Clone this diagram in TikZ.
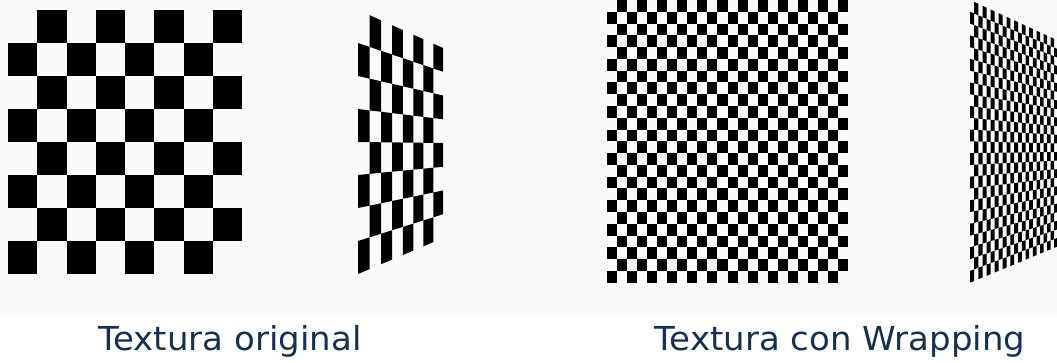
\documentclass[tikz,border=0pt]{standalone}
\usepackage{fontspec}
\newfontfamily\capfont{DejaVu Sans}
\definecolor{captext}{RGB}{22,48,84}
\newcommand{\setwarp}[8]{%
  \def\Wx{#1}\def\WW{#2}\def\WyTa{#3}\def\WyBa{#4}\def\WyTb{#5}\def\WyBb{#6}\def\WN{#7}\def\Wc{#8}}
\newcommand{\wpoint}[3]{%
  \pgfmathsetmacro{\Wqu}{(#1)/\WN}%
  \pgfmathsetmacro{\Wqt}{\Wqu*(1+\Wc)/(1+\Wc*\Wqu)}%
  \pgfmathsetmacro{\Wqtop}{\WyTa+(\WyTb-\WyTa)*\Wqt}%
  \pgfmathsetmacro{\Wqbot}{\WyBa+(\WyBb-\WyBa)*\Wqt}%
  \pgfmathsetmacro{\Wqx}{\Wx+\WW*\Wqt}%
  \pgfmathsetmacro{\Wqy}{\Wqtop+(\Wqbot-\Wqtop)*(#2)/\WN}%
  \coordinate (#3) at (\Wqx,\Wqy);%
}
\newcommand{\warpboard}{%
  \pgfmathtruncatemacro{\Wlast}{\WN-1}%
  \foreach \r in {0,...,\Wlast}{\foreach \c in {0,...,\Wlast}{%
    \pgfmathtruncatemacro{\odd}{mod(\r+\c,2)}%
    \ifnum\odd=1
      \wpoint{\c}{\r}{qa}\wpoint{\c+1}{\r}{qb}%
      \wpoint{\c+1}{\r+1}{qc}\wpoint{\c}{\r+1}{qd}%
      \fill[cell] (qa) -- (qb) -- (qc) -- (qd) -- cycle;
    \fi}}}
\begin{document}
\begin{tikzpicture}[x=1pt,y=-1pt,
  cell/.style={fill=black},
  caption/.style={font=\capfont\fontsize{33}{40}\selectfont, text=captext, anchor=base, inner sep=0pt, xscale=1.03}]
\useasboundingbox (0,0) rectangle (1057,363);
\fill[black!2] (0,0) rectangle (1057,315);
\clip (0,0) rectangle (1057,363);

% original texture 8x8
\foreach \r in {0,...,7}{\foreach \c in {0,...,7}{%
  \pgfmathtruncatemacro{\odd}{mod(\r+\c,2)}%
  \ifnum\odd=1
    \fill[cell] ({8+\c*29.25},{10+\r*33}) rectangle ++(29.25,33);
  \fi}}

% original texture in perspective
\setwarp{358}{85}{10}{274}{48}{238}{8}{0.118}
\warpboard

% wrapped texture 24x24
\foreach \r in {0,...,23}{\foreach \c in {0,...,23}{%
  \pgfmathtruncatemacro{\odd}{mod(\r+\c,2)}%
  \ifnum\odd=1
    \fill[cell] ({606.7+\c*10.067},{\r*11.78}) rectangle ++(10.067,11.78);
  \fi}}

% wrapped texture in perspective
\setwarp{970}{91}{0}{282.7}{42}{245}{24}{0.118}
\warpboard

\node[caption] (capA) at (230,350) {Textura original};
\node[caption] (capB) at (840,350) {Textura con Wrapping};
\end{tikzpicture}
\end{document}
